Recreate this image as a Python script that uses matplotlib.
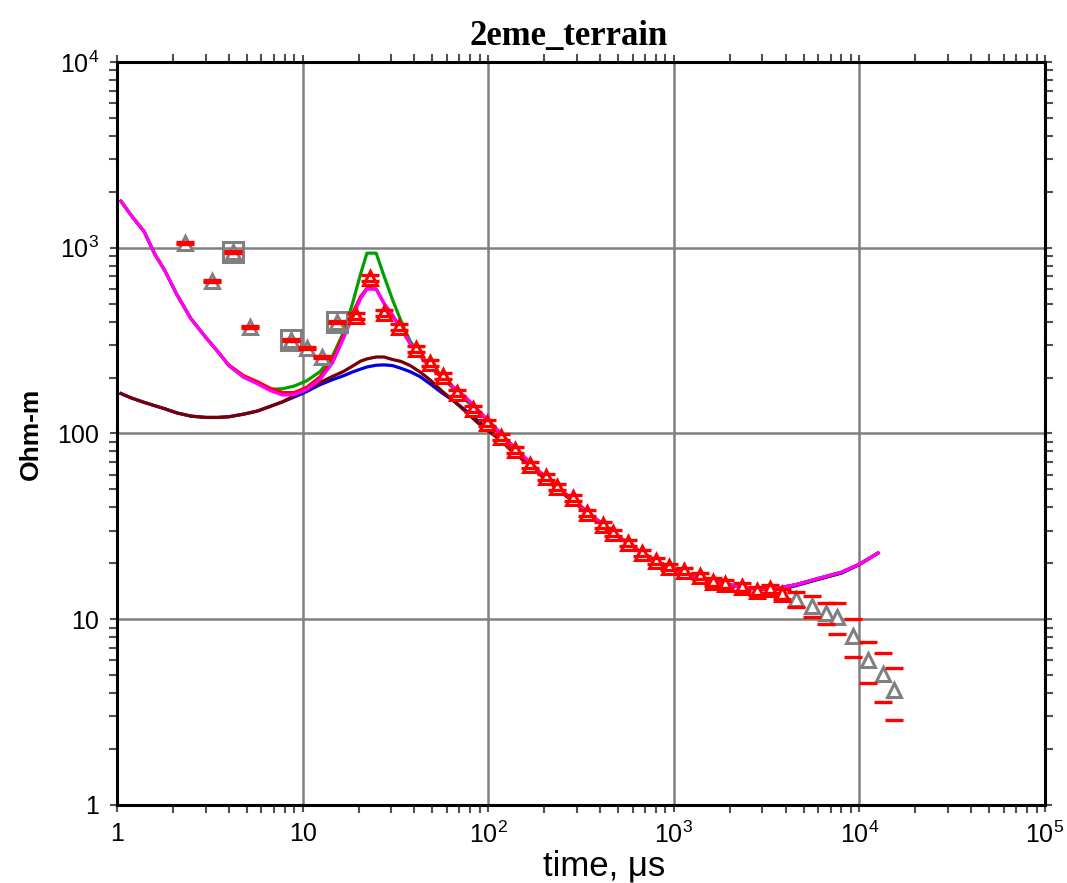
import matplotlib
matplotlib.use("Agg")
import matplotlib.pyplot as plt
import numpy as np

plt.rcParams['font.family'] = ['Liberation Sans', 'DejaVu Sans']
plt.rcParams['mathtext.fontset'] = 'custom'
plt.rcParams['mathtext.rm'] = 'Liberation Sans'
plt.rcParams['mathtext.it'] = 'Liberation Sans:italic'

# measured apparent resistivity (triangles)
t_obs = [2.33, 3.25, 4.22, 5.21, 8.66, 10.6, 12.7, 15.3,
         19.4, 23.1, 27.5, 33.1, 40.8, 48.6, 57.1, 67.9, 82.8, 98.5,
         117, 140, 168, 205, 235, 286, 341, 416, 470, 567, 674, 802,
         942, 1135, 1384, 1627, 1888, 2331, 2807, 3299, 3828,
         4554, 5553, 6607, 7573, 9237, 11126, 13406, 15363]
rho_obs = [1059, 661, 947, 374, 318, 288, 258, 398,
           428, 686, 445, 374, 285, 239, 204, 165, 135, 113.8,
           95.6, 81.4, 67.6, 58.3, 51.4, 44.9, 37.3, 32.1, 29.1, 25.7, 22.7, 20.6,
           19.1, 18.2, 17.1, 15.9, 15.5, 14.9, 14.2, 14.5, 13.7,
           12.8, 11.8, 10.8, 10.3, 8.12, 6.03, 5.07, 4.16]
err_obs = [0.01, 0.01, 0.01, 0.01, 0.01, 0.01, 0.01, 0.01,
           0.035, 0.035, 0.035, 0.035, 0.035, 0.035, 0.035, 0.035, 0.035, 0.035,
           0.035, 0.035, 0.035, 0.035, 0.035, 0.035, 0.035, 0.035, 0.035, 0.035, 0.035, 0.035,
           0.035, 0.035, 0.04, 0.045, 0.045, 0.05, 0.05, 0.05, 0.06,
           0.09, 0.127, 0.13, 0.19, 0.23, 0.25, 0.29, 0.31]
# 1 = used in inversion (red), 0 = masked (grey)
used = [0, 0, 0, 0, 0, 0, 0, 0,
        1, 1, 1, 1, 1, 1, 1, 1, 1, 1,
        1, 1, 1, 1, 1, 1, 1, 1, 1, 1, 1, 1,
        1, 1, 1, 1, 1, 1, 1, 1, 1,
        0, 0, 0, 0, 0, 0, 0, 0]
boxed = [2, 4, 7]

# model curves
t_mod = [1.05, 1.2, 1.4, 1.6, 1.8, 2.1, 2.5, 3.0, 3.5, 4.0, 4.8, 5.7, 6.7, 7.8, 9.0,
         10.5, 12.4, 14.5, 16.5, 18.5, 20.5, 22.2, 24.9, 27.5, 30.5, 34, 38, 43, 49,
         56, 65, 75, 87, 100, 115, 135, 160, 200, 250, 320, 400, 500, 650, 800, 1000,
         1300, 1700, 2200, 2800, 3500, 4500, 5900, 8000, 10000, 12600]
late = [86, 73, 59, 49, 40, 33.3, 28, 23.3, 20.6, 18.6,
        17.0, 15.9, 15.0, 14.6, 14.6, 15.3, 16.5, 17.9, 19.8, 22.7]
rho_green = [1780, 1480, 1220, 920, 760, 560, 415, 330, 275, 232, 201, 187, 173, 174, 180,
             192, 215, 262, 345, 495, 720, 935, 935, 700, 525, 400, 313, 265, 229,
             201, 174, 152, 133, 118, 102] + late
rho_magenta = [1780, 1480, 1220, 920, 760, 560, 415, 330, 275, 232, 201, 185, 170, 161, 162,
               172, 195, 240, 320, 420, 530, 598, 598, 500, 435, 365, 305, 262, 226,
               203, 178, 158, 136, 117, 101] + late
rho_red = [1780, 1480, 1220, 920, 760, 560, 415, 330, 275, 234, 205, 190, 175, 166, 166,
           177, 202, 250, 335, 440, 545, 605, 600, 500, 432, 363, 304, 261, 225,
           202, 177, 157, 135, 116, 100] + late
rho_maroon = [164, 155, 147, 141, 136, 129, 124, 122, 122, 123, 127, 132, 140, 148, 160,
              172, 188, 203, 215, 230, 245, 252, 258, 258, 250, 244, 232, 214, 193,
              170, 150, 132, 115, 103, 93, 80, 70, 57.5, 48, 39.5, 33.3, 28, 23.3, 20.6, 18.6,
              17.0, 15.9, 15.0, 14.6, 14.6, 15.3, 16.4, 17.8, 19.7, 22.7]
rho_blue = [164, 155, 147, 141, 136, 129, 124, 122, 122, 123, 127, 132, 140, 148, 157,
            168, 183, 195, 204, 214, 222, 228, 233, 234, 232, 224, 215, 202, 184,
            166, 150, 134, 118, 105, 94, 80, 70, 57.5, 48, 39.5, 33.3, 28, 23.3, 20.6, 18.6,
            17.0, 15.9, 15.0, 14.5, 14.5, 15.1, 16.3, 17.7, 19.7, 22.7]

fig = plt.figure(figsize=(10.67, 8.83), dpi=100)
ax = fig.add_axes([0.1097, 0.0884, 0.8697, 0.8414])
ax.set_xscale('log')
ax.set_yscale('log')
ax.set_xlim(1, 1e5)
ax.set_ylim(1, 1e4)

lw = 2.3
ax.plot(t_mod, rho_blue, color='#0000e0', lw=lw, zorder=3)
ax.plot(t_mod, rho_maroon, color='#780000', lw=lw, zorder=3)
ax.plot(t_mod, rho_green, color='#00a000', lw=lw, zorder=3)
ax.plot(t_mod, rho_red, color='#ff0000', lw=lw, zorder=3)
ax.plot(t_mod, rho_magenta, color='#ff00ff', lw=lw, zorder=3)

t_obs = np.array(t_obs)
rho_obs = np.array(rho_obs)
err_obs = np.array(err_obs)
used = np.array(used, dtype=bool)

grey = '#808080'
ax.plot(t_obs[~used], rho_obs[~used], ls='none', marker='^', ms=9.5, mfc='white',
        mec=grey, mew=2.2, zorder=4)
ax.plot(t_obs[used], rho_obs[used], ls='none', marker='^', ms=9.5, mfc='white',
        mec='#ff0000', mew=2.2, zorder=5)
ax.plot(t_obs[boxed], rho_obs[boxed], ls='none', marker='s', ms=15, mfc='none',
        mec=grey, mew=2.2, zorder=4)
# error limits shown as short dashes
ax.plot(t_obs, rho_obs * (1 + err_obs), ls='none', marker='_', ms=13, mew=2.4,
        color='#ff0000', zorder=6)
ax.plot(t_obs, rho_obs * (1 - err_obs), ls='none', marker='_', ms=13, mew=2.4,
        color='#ff0000', zorder=6)

ax.grid(True, which='major', color=grey, lw=1.8)
ax.set_axisbelow(True)
for s in ax.spines.values():
    s.set_linewidth(2.2)
    s.set_zorder(7)

xt = [1, 10, 100, 1000, 1e4, 1e5]
xl = ['1', '10', r'$\mathregular{10^{2}}$', r'$\mathregular{10^{3}}$',
      r'$\mathregular{10^{4}}$', r'$\mathregular{10^{5}}$']
yt = [1, 10, 100, 1000, 1e4]
yl = ['1', '10', '100', r'$\mathregular{10^{3}}$', r'$\mathregular{10^{4}}$']
ax.set_xticks(xt)
ax.set_xticklabels(xl, fontsize=18)
ax.set_yticks(yt)
ax.set_yticklabels(yl, fontsize=18)
ax.tick_params(which='both', direction='out', top=True, right=True,
               color='#505050', width=1.5)
ax.tick_params(which='major', length=5, pad=8)
ax.tick_params(which='minor', length=6)
ax.tick_params(axis='x', which='major', pad=7)

ax.set_xlabel('time, \u03bcs', fontsize=25)
ax.xaxis.set_label_coords(0.525, -0.06)
ax.set_ylabel('Ohm-m', fontsize=19, fontweight='bold', labelpad=10)
ax.set_title('2eme_terrain', fontsize=25, fontweight='bold',
             family=['Liberation Serif', 'DejaVu Serif'], pad=12)
ax.title.set_x(0.487)

fig.savefig('out.png', dpi=100)
